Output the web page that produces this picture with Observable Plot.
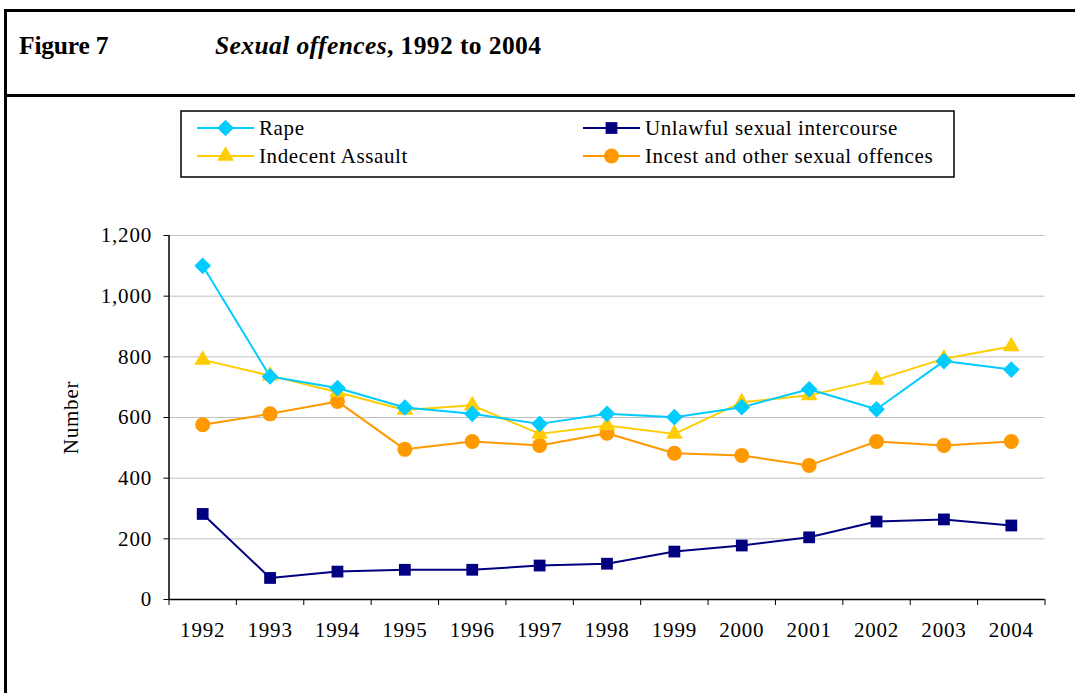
<!DOCTYPE html>
<html>
<head>
<meta charset="utf-8">
<script src="https://cdn.jsdelivr.net/npm/d3@7"></script>
<script src="https://cdn.jsdelivr.net/npm/@observablehq/plot@0.6"></script>
<style>
  html, body { margin: 0; padding: 0; background: #fff; }
  #wrap { position: relative; width: 1075px; height: 693px; overflow: hidden; font-family: "Liberation Serif", "Times New Roman", serif; }
  .border-left { position: absolute; left: 4px; top: 9px; width: 3px; height: 700px; background: #000; }
  .border-top { position: absolute; left: 4px; top: 9px; width: 1080px; height: 3px; background: #000; }
  .sep { position: absolute; left: 4px; top: 94px; width: 1080px; height: 3px; background: #000; }
  .title { position: absolute; top: 31px; font-size: 25.5px; font-weight: bold; color: #000; white-space: nowrap; }
  #legend { position: absolute; left: 0; top: 0; }
  #chart { position: absolute; left: 0; top: 200px; }
  #chart svg { overflow: visible; }
</style>
</head>
<body>
<div id="wrap">
  <div class="border-left"></div>
  <div class="border-top"></div>
  <div class="sep"></div>
  <div class="title" style="left:19px;letter-spacing:-0.2px;">Figure 7</div>
  <div class="title" style="left:215px;letter-spacing:0.4px;"><i>Sexual offences</i>, 1992 to 2004</div>
  <svg id="legend" width="1075" height="200"></svg>
  <div id="chart"></div>
</div>
<script>
const years = [1992, 1993, 1994, 1995, 1996, 1997, 1998, 1999, 2000, 2001, 2002, 2003, 2004];
const seriesNames = ["Rape", "Unlawful sexual intercourse", "Indecent Assault", "Incest and other sexual offences"];
const rape = [1100, 735, 697, 633, 612, 579, 612, 601, 634, 693, 627, 786, 758];
const unlawful = [282, 71, 92, 98, 98, 112, 118, 158, 178, 205, 257, 264, 244];
const indecent = [790, 738, 683, 625, 640, 546, 574, 546, 650, 673, 724, 794, 834];
const incest = [576, 612, 653, 495, 521, 508, 548, 482, 475, 442, 521, 508, 521];
const colors = ["#00CCFF", "#000080", "#FFCC00", "#FF9900"];
const symbols = ["diamond2", "square2", "triangle2", "circle"];
const yTicks = [0, 200, 400, 600, 800, 1000, 1200];

const valueLists = [rape, unlawful, indecent, incest];
const data = [];
seriesNames.forEach((s, k) => years.forEach((yr, i) => data.push({series: s, year: yr, value: valueLists[k][i]})));
const halfTicks = d3.range(1991.5, 2005, 1);
const radii = [7.5, 7.5, 8, 7.5];

const marks = [
  Plot.gridY(yTicks, {stroke: "#c0c0c0", strokeOpacity: 1, strokeWidth: 1}),
  Plot.axisY({ticks: yTicks, tickSize: 5, tickPadding: 12, tickFormat: d3.format(","), label: "Number", labelAnchor: "center", labelArrow: "none", labelOffset: 106}),
  Plot.axisX({ticks: halfTicks, tickSize: 6, tickFormat: () => "", label: null}),
  Plot.axisX({ticks: years, tickSize: 0, tickPadding: 23, tickFormat: d => String(d), label: null}),
  Plot.ruleX([1991.5], {stroke: "#000", strokeWidth: 1.5}),
  Plot.ruleY([0], {stroke: "#000", strokeWidth: 1.5})
];
const order = [3, 2, 0, 1];
order.forEach(k => {
  const d = data.filter(r => r.series === seriesNames[k]);
  marks.push(Plot.line(d, {x: "year", y: "value", stroke: colors[k], strokeWidth: 2}));
});
order.forEach(k => {
  const d = data.filter(r => r.series === seriesNames[k]);
  marks.push(Plot.dot(d, {x: "year", y: "value", fill: colors[k], stroke: "none", symbol: symbols[k], r: radii[k]}));
});

const chart = Plot.plot({
  width: 1075,
  height: 493,
  marginLeft: 168.5,
  marginRight: 30.5,
  marginTop: 35,
  marginBottom: 94,
  x: {type: "linear", domain: [1991.5, 2004.5]},
  y: {domain: [0, 1200]},
  style: {fontFamily: "'Liberation Serif', 'Times New Roman', serif", fontSize: "21px", color: "#000", background: "transparent", letterSpacing: "0.8px"},
  marks
});
document.getElementById("chart").appendChild(chart);

// Legend
const lg = d3.select("#legend");
lg.append("rect").attr("x", 181).attr("y", 111).attr("width", 773).attr("height", 66)
  .attr("fill", "#fff").attr("stroke", "#000").attr("stroke-width", 1.5);
const legendPos = [
  {x: 197, y: 128}, {x: 583, y: 128}, {x: 197, y: 156}, {x: 583, y: 156}
];
const symMap = {diamond2: d3.symbolDiamond2, square2: d3.symbolSquare2, triangle2: d3.symbolTriangle2, circle: d3.symbolCircle};
seriesNames.forEach((s, k) => {
  const p = legendPos[k];
  lg.append("line").attr("x1", p.x).attr("x2", p.x + 57).attr("y1", p.y).attr("y2", p.y)
    .attr("stroke", colors[k]).attr("stroke-width", 2);
  const r = radii[k];
  lg.append("path").attr("d", d3.symbol(symMap[symbols[k]], Math.PI * r * r)())
    .attr("transform", `translate(${p.x + 28.5},${p.y})`).attr("fill", colors[k]);
  lg.append("text").attr("x", p.x + 62).attr("y", p.y).attr("dy", "0.35em")
    .attr("font-family", "'Liberation Serif', 'Times New Roman', serif").attr("font-size", 21)
    .attr("letter-spacing", "0.6px")
    .text(s);
});
</script>
</body>
</html>
